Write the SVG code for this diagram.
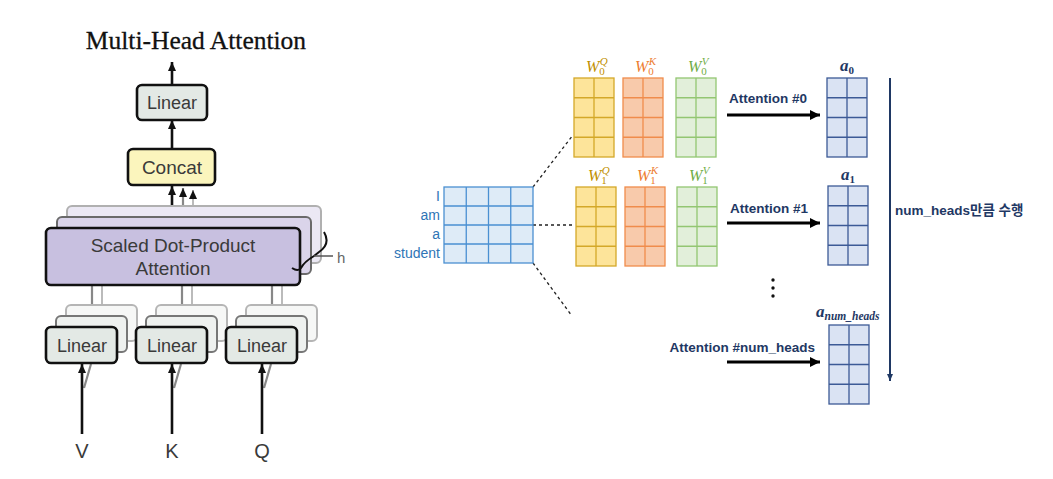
<svg xmlns="http://www.w3.org/2000/svg" xmlns:xlink="http://www.w3.org/1999/xlink" width="1053" height="479" viewBox="0 0 1053 479">
<style>
.box{stroke:#111;stroke-width:2.6}
.lin{fill:#e3e9e5}
.sh1{fill:#eef1ef;stroke:#777;stroke-width:2}
.sh2{fill:#f6f7f6;stroke:#b5b5b5;stroke-width:2}
.lbl{font-family:"Liberation Sans",Arial,sans-serif;fill:#3a3a3a;text-anchor:middle}
.ar{stroke:#111;stroke-width:2.6;fill:none;marker-end:url(#ha)}
.gl{stroke:#888;stroke-width:2.2;fill:none}
.gl2{stroke:#bbb;stroke-width:2;fill:none}
.q{fill:#fde49a;stroke:#d4a829}
.k{fill:#f8caab;stroke:#f08c4c}
.v{fill:#e2efda;stroke:#93c672}
.o{fill:#dae3f3;stroke:#3c5a96}
.grid{stroke-width:1.3}
.wl{font-family:"Liberation Serif","Times New Roman",serif;font-style:italic}
.al{font-family:"Liberation Serif","Times New Roman",serif;font-style:italic;font-weight:bold;fill:#1f3864}
.att{font-family:"Liberation Sans","Noto Sans CJK KR",sans-serif;font-weight:bold;font-size:13.5px;fill:#1f3864}
.blk{stroke:#000;stroke-width:3;fill:none;marker-end:url(#hb)}
.dash{stroke:#222;stroke-width:1.3;stroke-dasharray:3 3;fill:none}
.word{font-family:"Liberation Sans","Noto Sans",sans-serif;font-size:14px;fill:#2e75b6;text-anchor:end}
</style>
<defs>
<marker id="ha" markerUnits="userSpaceOnUse" markerWidth="10" markerHeight="10" refX="9" refY="4" orient="auto">
<path d="M0,0 L9,4 L0,8 z" fill="#111"/>
</marker>
<marker id="hb" markerUnits="userSpaceOnUse" markerWidth="11" markerHeight="11" refX="10" refY="5" orient="auto">
<path d="M0,0 L10,5 L0,10 z" fill="#000"/>
</marker>
<marker id="hn" markerUnits="userSpaceOnUse" markerWidth="8" markerHeight="8" refX="7" refY="3" orient="auto">
<path d="M0,0 L7,3 L0,6 z" fill="#1f3864"/>
</marker>
<g id="g24" class="grid">
<rect x="0" y="0" width="40" height="79"/>
<path d="M20,0 V79 M0,19.75 H40 M0,39.5 H40 M0,59.25 H40" fill="none"/>
</g>
</defs>

<!-- LEFT: Multi-Head Attention -->
<text id="title" x="196" y="49" font-family="'Liberation Serif','Times New Roman',serif" font-size="25.5" fill="#111" stroke="#111" stroke-width="0.3" text-anchor="middle">Multi-Head Attention</text>

<g id="connectors-left">
<line class="ar" x1="172" y1="85" x2="172" y2="62"/>
<line class="ar" x1="172" y1="149" x2="172" y2="120"/>
<line class="gl2" x1="193" y1="206" x2="193" y2="190" marker-end="url(#ha)"/>
<line class="gl" x1="183" y1="217" x2="183" y2="188" marker-end="url(#ha)"/>
<line class="ar" x1="172" y1="228" x2="172" y2="186"/>
<g>
<line class="gl2" x1="102" y1="305" x2="102" y2="285"/>
<line class="gl" x1="92" y1="316" x2="92" y2="285"/>
<line class="gl2" x1="192" y1="305" x2="192" y2="285"/>
<line class="gl" x1="182" y1="316" x2="182" y2="285"/>
<line class="gl2" x1="282" y1="305" x2="282" y2="285"/>
<line class="gl" x1="272" y1="316" x2="272" y2="285"/>
</g>
<line class="gl" x1="84" y1="388" x2="91" y2="364"/>
<line class="gl" x1="174" y1="388" x2="181" y2="364"/>
<line class="gl" x1="264" y1="388" x2="271" y2="364"/>
<line class="ar" x1="82" y1="434" x2="82" y2="364"/>
<line class="ar" x1="172" y1="434" x2="172" y2="364"/>
<line class="ar" x1="262" y1="434" x2="262" y2="364"/>
</g>

<g id="node-linear-top">
<rect class="box lin" x="137" y="85" width="70" height="35" rx="5"/>
<text class="lbl" x="172" y="109" font-size="18">Linear</text>
</g>
<g id="node-concat">
<rect class="box" x="128" y="149" width="87" height="36" rx="5" fill="#fbf5bd"/>
<text class="lbl" x="172" y="174" font-size="19">Concat</text>
</g>

<g id="node-attention">
<rect x="67" y="206" width="254" height="57" rx="5" fill="#ebe8f4" stroke="#b0b0b0" stroke-width="2"/>
<rect x="57" y="217" width="254" height="57" rx="5" fill="#dad4ea" stroke="#6a6a6a" stroke-width="2"/>
<rect class="box" x="46" y="228" width="254" height="57" rx="5" fill="#c8c0e0"/>
<text class="lbl" x="173" y="252" font-size="19">Scaled Dot-Product</text>
<text class="lbl" x="173" y="275" font-size="19">Attention</text>
<path d="M324,232 Q331,244 319,252 L314,256 Q304,262 301,268 Q298,272 292,268" fill="none" stroke="#111" stroke-width="2"/>
<line x1="314" y1="256" x2="333" y2="256" stroke="#555" stroke-width="1.5"/>
<text x="337" y="263" font-family="'Liberation Sans',Arial,sans-serif" font-size="15" fill="#666">h</text>
</g>

<g id="node-linear-v">
<rect class="sh2" x="66" y="305" width="71" height="36" rx="5"/>
<rect class="sh1" x="56" y="316" width="71" height="36" rx="5"/>
<rect class="box lin" x="46" y="327" width="71" height="36" rx="5"/>
<text class="lbl" x="82" y="352" font-size="18">Linear</text>
</g>
<g id="node-linear-k">
<rect class="sh2" x="156" y="305" width="71" height="36" rx="5"/>
<rect class="sh1" x="146" y="316" width="71" height="36" rx="5"/>
<rect class="box lin" x="136" y="327" width="71" height="36" rx="5"/>
<text class="lbl" x="172" y="352" font-size="18">Linear</text>
</g>
<g id="node-linear-q">
<rect class="sh2" x="246" y="305" width="71" height="36" rx="5"/>
<rect class="sh1" x="236" y="316" width="71" height="36" rx="5"/>
<rect class="box lin" x="226" y="327" width="71" height="36" rx="5"/>
<text class="lbl" x="262" y="352" font-size="18">Linear</text>
</g>
<g id="inputs">
<text class="lbl" x="82" y="458" font-size="20" fill="#555">V</text>
<text class="lbl" x="172" y="458" font-size="20" fill="#555">K</text>
<text class="lbl" x="262" y="458" font-size="20" fill="#555">Q</text>
</g>

<!-- RIGHT -->
<g id="connectors-right">
<line class="dash" x1="533" y1="187" x2="573" y2="135"/>
<line class="dash" x1="533" y1="225" x2="574" y2="225"/>
<line class="dash" x1="533" y1="263" x2="572" y2="316"/>
<line class="blk" x1="727" y1="115" x2="820" y2="115"/>
<line class="blk" x1="727" y1="223" x2="820" y2="223"/>
<line class="blk" x1="727" y1="362" x2="820" y2="362"/>
<line x1="890" y1="78" x2="890" y2="381" stroke="#1f3864" stroke-width="2" marker-end="url(#hn)"/>
</g>

<g id="node-input-matrix">
<rect x="444" y="187" width="89" height="76" fill="#deebf7" stroke="#4a90d2" stroke-width="1.3"/>
<path d="M466.25,187 V263 M488.5,187 V263 M510.75,187 V263 M444,206 H533 M444,225 H533 M444,244 H533" stroke="#4a90d2" stroke-width="1.3" fill="none"/>
<text class="word" x="440" y="201">I</text>
<text class="word" x="440" y="220">am</text>
<text class="word" x="440" y="239">a</text>
<text class="word" x="440" y="258">student</text>
</g>

<g id="node-w0q"><use xlink:href="#g24" href="#g24" x="574" y="78" class="q"/>
<text class="wl" x="586" y="72" font-size="16" fill="#bf9000">W<tspan font-size="11" dy="3" font-style="normal">0</tspan><tspan font-size="11" dx="-5" dy="-10">Q</tspan></text></g>
<g id="node-w0k"><use xlink:href="#g24" href="#g24" x="623" y="78" class="k"/>
<text class="wl" x="635" y="72" font-size="16" fill="#ed7d31">W<tspan font-size="11" dy="3" font-style="normal">0</tspan><tspan font-size="11" dx="-5" dy="-10">K</tspan></text></g>
<g id="node-w0v"><use xlink:href="#g24" href="#g24" x="676" y="78" class="v"/>
<text class="wl" x="688" y="72" font-size="16" fill="#70ad47">W<tspan font-size="11" dy="3" font-style="normal">0</tspan><tspan font-size="11" dx="-5" dy="-10">V</tspan></text></g>

<g id="node-w1q"><use xlink:href="#g24" href="#g24" x="576" y="187" class="q"/>
<text class="wl" x="588" y="181" font-size="16" fill="#bf9000">W<tspan font-size="11" dy="3" font-style="normal">1</tspan><tspan font-size="11" dx="-5" dy="-10">Q</tspan></text></g>
<g id="node-w1k"><use xlink:href="#g24" href="#g24" x="625" y="187" class="k"/>
<text class="wl" x="637" y="181" font-size="16" fill="#ed7d31">W<tspan font-size="11" dy="3" font-style="normal">1</tspan><tspan font-size="11" dx="-5" dy="-10">K</tspan></text></g>
<g id="node-w1v"><use xlink:href="#g24" href="#g24" x="677" y="187" class="v"/>
<text class="wl" x="689" y="181" font-size="16" fill="#70ad47">W<tspan font-size="11" dy="3" font-style="normal">1</tspan><tspan font-size="11" dx="-5" dy="-10">V</tspan></text></g>

<g id="labels-attention">
<text class="att" x="729" y="103">Attention #0</text>
<text class="att" x="730" y="213">Attention #1</text>
<text class="att" x="815" y="352" text-anchor="end">Attention #num_heads</text>
<text class="att" x="895" y="215" font-size="13">num_heads만큼 수행</text>
<circle cx="773" cy="280" r="1.7" fill="#111"/>
<circle cx="773" cy="288" r="1.7" fill="#111"/>
<circle cx="773" cy="296" r="1.7" fill="#111"/>
</g>

<g id="node-a0"><use xlink:href="#g24" href="#g24" x="827" y="78" class="o"/>
<text class="al" x="840" y="71" font-size="17">a<tspan font-size="11" dy="3" font-style="normal">0</tspan></text></g>
<g id="node-a1"><use xlink:href="#g24" href="#g24" x="828" y="186" class="o"/>
<text class="al" x="841" y="180" font-size="17">a<tspan font-size="11" dy="3" font-style="normal">1</tspan></text></g>
<g id="node-an"><use xlink:href="#g24" href="#g24" x="829" y="325" class="o"/>
<text class="al" x="816" y="317" font-size="17">a<tspan font-size="11.5" dy="3">num_heads</tspan></text></g>
</svg>
